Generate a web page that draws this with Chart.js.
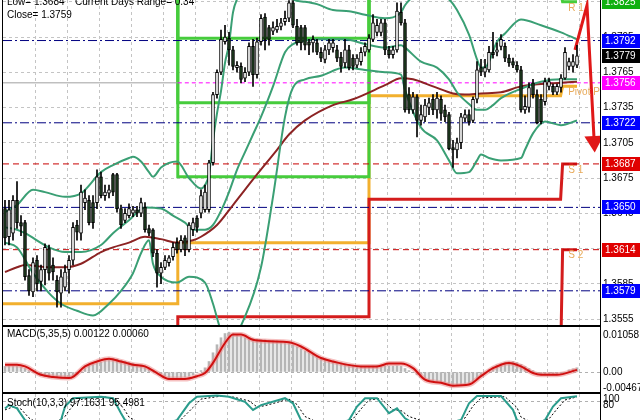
<!DOCTYPE html>
<html><head><meta charset="utf-8">
<script src="https://cdn.jsdelivr.net/npm/chart.js@4.4.1/dist/chart.umd.min.js"></script>
<style>
html,body{margin:0;padding:0;background:#fff;overflow:hidden;width:640px;height:420px;position:relative}
canvas{position:absolute;left:0}
#main{top:0}
#macd{top:326px}
#stoch{top:393px}
</style></head><body>
<canvas id="main" width="640" height="327"></canvas>
<canvas id="macd" width="640" height="67"></canvas>
<canvas id="stoch" width="640" height="36"></canvas>
<script>
// candles, one per slot
const candleOpen = [
  1.3649,1.3625,1.3628,1.3656,1.3637,1.3637,1.3592,1.3578,1.3605,1.3587,
  1.3597,1.3615,1.3601,1.3588,1.3577,1.3582,1.3597,1.3605,1.3635,1.3628,
  1.3654,1.3656,1.3654,1.3654,1.3676,1.3660,1.3662,1.3678,1.3678,1.3649,
  1.3639,1.3643,1.3645,1.3648,1.3645,1.3650,1.3632,1.3631,1.3611,1.3594,
  1.3599,1.3603,1.3608,1.3620,1.3614,1.3624,1.3614,1.3631,1.3641,1.3645,
  1.3648,1.3648,1.3688,1.3746,1.3765,1.3791,1.3794,1.3784,1.3769,1.3770,
  1.3760,1.3765,1.3787,1.3763,1.3791,1.3812,1.3803,1.3800,1.3801,1.3804,
  1.3808,1.3811,1.3824,1.3804,1.3803,1.3803,1.3791,1.3790,1.3790,1.3782,
  1.3776,1.3784,1.3786,1.3784,1.3778,1.3773,1.3784,1.3777,1.3771,1.3774,
  1.3782,1.3784,1.3793,1.3799,1.3799,1.3807,1.3784,1.3780,1.3784,1.3816,
  1.3807,1.3746,1.3733,1.3744,1.3724,1.3727,1.3735,1.3742,1.3733,1.3742,
  1.3733,1.3729,1.3701,1.3699,1.3705,1.3726,1.3729,1.3724,1.3742,1.3769,
  1.3765,1.3767,1.3782,1.3782,1.3787,1.3787,1.3777,1.3774,1.3771,1.3767,
  1.3733,1.3735,1.3756,1.3746,1.3742,1.3740,1.3753,1.3753,1.3748,1.3752,
  1.3760,1.3770,1.3770,1.3771
];
const candleHigh = [
  1.3656,1.3656,1.3660,1.3672,1.3643,1.3639,1.3597,1.3607,1.3609,1.3601,
  1.3619,1.3618,1.3607,1.3592,1.3597,1.3601,1.3609,1.3637,1.3639,1.3669,
  1.3665,1.3660,1.3660,1.3682,1.3680,1.3669,1.3669,1.3679,1.3679,1.3652,
  1.3649,1.3653,1.3651,1.3651,1.3658,1.3654,1.3635,1.3632,1.3614,1.3603,
  1.3609,1.3609,1.3620,1.3624,1.3626,1.3626,1.3637,1.3641,1.3643,1.3665,
  1.3669,1.3690,1.3748,1.3767,1.3801,1.3805,1.3799,1.3787,1.3774,1.3773,
  1.3769,1.3790,1.3793,1.3794,1.3814,1.3815,1.3805,1.3808,1.3810,1.3811,
  1.3817,1.3826,1.3826,1.3810,1.3805,1.3805,1.3793,1.3796,1.3793,1.3786,
  1.3788,1.3793,1.3793,1.3788,1.3782,1.3793,1.3788,1.3780,1.3780,1.3786,
  1.3790,1.3797,1.3814,1.3810,1.3810,1.3810,1.3787,1.3787,1.3824,1.3824,
  1.3810,1.3752,1.3748,1.3746,1.3737,1.3742,1.3743,1.3746,1.3748,1.3745,
  1.3737,1.3731,1.3707,1.3709,1.3730,1.3733,1.3733,1.3744,1.3774,1.3776,
  1.3776,1.3787,1.3799,1.3790,1.3797,1.3790,1.3780,1.3777,1.3774,1.3770,
  1.3745,1.3756,1.3759,1.3750,1.3746,1.3760,1.3760,1.3755,1.3755,1.3763,
  1.3786,1.3777,1.3780,1.3788
];
const candleLow = [
  1.3618,1.3618,1.3622,1.3632,1.3626,1.3588,1.3575,1.3574,1.3579,1.3579,
  1.3584,1.3588,1.3588,1.3565,1.3565,1.3579,1.3577,1.3601,1.3622,1.3622,
  1.3648,1.3635,1.3632,1.3649,1.3658,1.3656,1.3658,1.3660,1.3646,1.3632,
  1.3637,1.3641,1.3642,1.3642,1.3642,1.3629,1.3626,1.3608,1.3582,1.3585,
  1.3597,1.3600,1.3605,1.3611,1.3612,1.3609,1.3612,1.3626,1.3629,1.3641,
  1.3646,1.3646,1.3686,1.3743,1.3763,1.3789,1.3771,1.3767,1.3765,1.3756,
  1.3757,1.3762,1.3753,1.3760,1.3788,1.3784,1.3788,1.3797,1.3799,1.3801,
  1.3805,1.3808,1.3803,1.3788,1.3784,1.3784,1.3780,1.3782,1.3780,1.3774,
  1.3773,1.3780,1.3782,1.3774,1.3765,1.3769,1.3767,1.3767,1.3769,1.3771,
  1.3779,1.3782,1.3791,1.3796,1.3796,1.3780,1.3777,1.3777,1.3782,1.3805,
  1.3731,1.3730,1.3730,1.3710,1.3720,1.3723,1.3729,1.3729,1.3726,1.3724,
  1.3723,1.3699,1.3684,1.3692,1.3700,1.3723,1.3720,1.3722,1.3739,1.3762,
  1.3761,1.3765,1.3777,1.3779,1.3784,1.3774,1.3770,1.3769,1.3765,1.3731,
  1.3730,1.3731,1.3743,1.3721,1.3721,1.3737,1.3750,1.3746,1.3746,1.3748,
  1.3759,1.3767,1.3765,1.3769
];
const candleClose = [
  1.3624,1.3648,1.3656,1.3637,1.3634,1.3591,1.3579,1.3603,1.3585,1.3597,
  1.3616,1.3594,1.3595,1.3578,1.3591,1.3595,1.3605,1.3633,1.3629,1.3663,
  1.3658,1.3637,1.3637,1.3676,1.3660,1.3663,1.3665,1.3663,1.3649,1.3635,
  1.3645,1.3649,1.3648,1.3645,1.3654,1.3631,1.3628,1.3611,1.3594,1.3599,
  1.3605,1.3607,1.3616,1.3614,1.3622,1.3614,1.3635,1.3637,1.3633,1.3660,
  1.3663,1.3688,1.3746,1.3765,1.3793,1.3795,1.3784,1.3770,1.3771,1.3759,
  1.3765,1.3787,1.3763,1.3791,1.3811,1.3793,1.3793,1.3803,1.3804,1.3807,
  1.3811,1.3824,1.3805,1.3790,1.3790,1.3788,1.3788,1.3793,1.3782,1.3777,
  1.3784,1.3790,1.3790,1.3777,1.3770,1.3784,1.3769,1.3770,1.3777,1.3782,
  1.3787,1.3794,1.3807,1.3805,1.3807,1.3784,1.3780,1.3784,1.3817,1.3807,
  1.3733,1.3733,1.3744,1.3724,1.3729,1.3737,1.3739,1.3733,1.3743,1.3730,
  1.3727,1.3700,1.3699,1.3705,1.3727,1.3729,1.3723,1.3742,1.3767,1.3765,
  1.3769,1.3782,1.3780,1.3784,1.3793,1.3777,1.3773,1.3771,1.3767,1.3733,
  1.3736,1.3752,1.3746,1.3722,1.3723,1.3757,1.3757,1.3748,1.3753,1.3760,
  1.3782,1.3774,1.3774,1.3779
];

// Bollinger bands and moving average, read at a few slots
const bbUpperIdx = [0,3,7,10,15,19,24,27,31,32,34,36,37,39,43,46,49,50,51,52,53,54,55,56,57,58,60,63,66,69,72,75,78,82,86,90,95,99,100,102,105,108,111,113,116,118,119,120,121,123,125,129,134,139,143];
const bbUpperVal = [1.3646,1.3652,1.3665,1.3663,1.3659,1.3662,1.3680,1.3686,1.3692,1.3693,1.3689,1.3680,1.3676,1.3684,1.3689,1.3675,1.3666,1.3669,1.3678,1.3707,1.3730,1.3749,1.3773,1.3789,1.3816,1.3827,1.3837,1.3852,1.3852,1.3840,1.3827,1.3825,1.3823,1.3818,1.3817,1.3814,1.3811,1.3816,1.3822,1.3829,1.3831,1.3831,1.3827,1.3818,1.3797,1.3776,1.3769,1.3769,1.3774,1.3791,1.3798,1.3810,1.3805,1.3799,1.3793];
const bbMidIdx = [0,3,5,11,15,19,24,27,31,35,39,42,45,47,50,52,54,56,58,60,62,64,67,70,72,75,79,85,90,95,99,100,104,108,111,113,116,118,120,122,124,129,134,139,143];
const bbMidVal = [1.3633,1.3631,1.3628,1.3616,1.3612,1.3612,1.3618,1.3628,1.3639,1.3650,1.3649,1.3643,1.3637,1.3631,1.3631,1.3635,1.3647,1.3663,1.3682,1.3697,1.3712,1.3727,1.3753,1.3782,1.3789,1.3792,1.3793,1.3793,1.3789,1.3786,1.3788,1.3786,1.3774,1.3769,1.3759,1.3748,1.3738,1.3733,1.3733,1.3737,1.3743,1.3751,1.3757,1.3759,1.3759];
const bbLowerIdx = [0,3,7,11,14,18,22,26,29,32,34,36,37,39,43,46,50,52,54,56,60,64,67,70,72,75,79,85,90,95,99,100,104,108,111,113,116,118,119,121,124,129,130,132,135,139,143];
const bbLowerVal = [1.3620,1.3616,1.3594,1.3577,1.3568,1.3562,1.3558,1.3568,1.3579,1.3594,1.3611,1.3622,1.3602,1.3591,1.3586,1.3591,1.3586,1.3568,1.3545,1.3536,1.3557,1.3599,1.3659,1.3727,1.3752,1.3759,1.3762,1.3769,1.3767,1.3765,1.3763,1.3750,1.3718,1.3707,1.3690,1.3679,1.3680,1.3690,1.3695,1.3692,1.3690,1.3692,1.3699,1.3713,1.3723,1.3720,1.3724];
const maIdx = [0,3,5,11,15,19,24,27,31,35,39,43,47,49,53,57,63,68,71,75,82,87,95,99,102,107,112,115,119,124,129,134,139,143];
const maVal = [1.3595,1.3599,1.3601,1.3599,1.3599,1.3602,1.3612,1.3616,1.3620,1.3625,1.3623,1.3620,1.3622,1.3625,1.3635,1.3652,1.3678,1.3699,1.3712,1.3724,1.3737,1.3742,1.3754,1.3760,1.3759,1.3753,1.3747,1.3746,1.3747,1.3748,1.3753,1.3755,1.3756,1.3757];

// daily pivot levels per period
const periodStart = [-0.5, 43.2, 91, 139.4];
const periodEnd = [43.2, 91, 138.9, 143];
const pivotP = [1.3568, 1.3620, 1.3745, 1.3753];
const pivotR1 = [1.3870, 1.3676, 1.3833, 1.3825];
const pivotR2 = [1.3900, 1.3739, 1.3900, 1.3900];
const pivotR3 = [1.3930, 1.3794, 1.3930, 1.3930];
const pivotS1 = [1.3520, 1.3557, 1.3657, 1.3687];
const pivotS2 = [1.3490, 1.3500, 1.3520, 1.3614];
const pivotLabels = ['R 1', 'Pivot P', 'S 1', 'S 2'];
const pivotLabelVal = [1.3825, 1.3753, 1.3687, 1.3614];

// horizontal levels
const navyLevels = [1.3792, 1.3722, 1.3650, 1.3579];
const redLevels = [1.3687, 1.3614];
const magentaLevel = 1.3756;

// price tags on the axis
const tagValues = [1.3825, 1.3792, 1.3779, 1.3756, 1.3722, 1.3687, 1.3650, 1.3614, 1.3579];
const tagColors = ['#10b010', '#0000ff', '#000000', '#ff00ff', '#0000ff', '#e00000', '#0000ff', '#e00000', '#0000ff'];
const priceTicks = [1.3555, 1.3585, 1.3615, 1.3645, 1.3675, 1.3705, 1.3735, 1.3765, 1.3795, 1.3825];
const gridIdx = [7.5, 15.5, 23.5, 31.5, 39.5, 47.5, 55.5, 63.5, 71.5, 79.5, 87.5, 95.5, 103.5, 111.5, 119.5, 127.5, 135.5, 143.5];

// forecast arrow
const arrowIdx = [142.5, 145.5, 147.3];
const arrowVal = [1.3784, 1.3822, 1.3706];

// MACD(5,35,5)
const macdHist = [
  0.0016,0.0017,0.0017,0.0016,0.0014,0.0010,0.0004,-0.0002,-0.0006,-0.0010,
  -0.0013,-0.0015,-0.0016,-0.0016,-0.0017,-0.0016,-0.0015,-0.0012,-0.0006,0.0002,
  0.0012,0.0020,0.0023,0.0026,0.0028,0.0033,0.0036,0.0039,0.0037,0.0033,
  0.0030,0.0028,0.0025,0.0022,0.0020,0.0016,0.0012,0.0006,0.0000,-0.0006,
  -0.0012,-0.0016,-0.0018,-0.0017,-0.0016,-0.0015,-0.0012,-0.0008,-0.0002,0.0004,
  0.0012,0.0030,0.0055,0.0078,0.0098,0.0110,0.0114,0.0110,0.0106,0.0102,
  0.0098,0.0097,0.0095,0.0094,0.0093,0.0092,0.0091,0.0090,0.0089,0.0088,
  0.0086,0.0083,0.0078,0.0072,0.0066,0.0060,0.0055,0.0050,0.0046,0.0042,
  0.0038,0.0034,0.0031,0.0028,0.0026,0.0024,0.0022,0.0020,0.0018,0.0017,
  0.0016,0.0016,0.0017,0.0018,0.0019,0.0018,0.0017,0.0017,0.0018,0.0016,
  0.0010,0.0004,-0.0002,-0.0008,-0.0014,-0.0018,-0.0022,-0.0025,-0.0027,-0.0028,
  -0.0030,-0.0033,-0.0037,-0.0038,-0.0036,-0.0035,-0.0033,-0.0028,-0.0020,-0.0012,
  -0.0004,0.0006,0.0014,0.0020,0.0024,0.0027,0.0029,0.0030,0.0027,0.0022,
  0.0016,0.0010,0.0004,-0.0002,-0.0006,-0.0008,-0.0008,-0.0008,-0.0007,-0.0006,
  -0.0002,0.0006,0.0009,0.0012
];
const macdSigIdx = [0,3,5,9,12,16,17,20,23,26,29,32,35,38,41,45,48,50,52,55,57,59,62,66,71,74,79,82,89,93,96,99,102,105,109,112,116,119,122,126,129,132,134,138,143];
const macdSigVal = [0.0021,0.0021,0.0016,-0.0008,-0.0014,-0.0017,-0.0014,0.0016,0.0030,0.0038,0.0030,0.0021,0.0016,-0.0003,-0.0020,-0.0020,-0.0012,-0.0003,0.0026,0.0083,0.0107,0.0107,0.0092,0.0088,0.0085,0.0073,0.0040,0.0030,0.0016,0.0016,0.0024,0.0024,0.0011,-0.0022,-0.0031,-0.0039,-0.0036,-0.0012,0.0011,0.0026,0.0016,-0.0003,-0.0008,-0.0008,0.0006];
const macdTicks = [0.01058, 0, -0.00467];

// Stochastic(10,3,3)
const stochIdx = [0,1,3,5,7,9,11,13,14,15,17,24,27,29,30,32,35,38,41,43,46,48,53,56,60,62,64,70,72,74,77,80,83,86,88,90,93,96,98,100,102,106,110,114,116,118,124,127,128,131,133,135,137,139,143];
const stochVal = [57,68,57,18,8,5,6,12,18,63,91,96,91,41,18,8,3,5,10,18,74,96,100,96,79,52,68,91,74,18,6,3,5,18,63,91,91,41,57,24,8,2,6,18,74,98,98,52,18,6,8,18,63,91,97.16];
const stochSigIdx = [0,2,4,6,8,12,15,16,18,20,25,28,30,31,34,40,44,47,49,54,57,61,63,65,71,73,75,79,84,87,89,91,94,97,99,101,107,111,115,117,119,125,128,129,132,136,138,140,143];
const stochSigVal = [52,62,55,25,10,5,30,50,80,92,95,85,50,28,6,5,20,60,88,98,95,82,62,66,88,70,30,5,4,22,55,85,90,52,50,30,3,5,25,65,92,96,60,28,8,22,55,85,95.5];
const stochTicks = [100, 80];

const FONT = '"Liberation Sans", Arial, sans-serif';
Chart.defaults.font.family = FONT;
Chart.defaults.font.size = 10;
Chart.defaults.color = '#000';

const pts = (xs, ys) => xs.map((x, i) => ({ x, y: ys[i] }));
const flat = v => [{ x: -0.5, y: v }, { x: 148.75, y: v }];
const steps = vals => {
  const out = [];
  vals.forEach((v, k) => { out.push({ x: periodStart[k], y: v }, { x: periodEnd[k], y: v }); });
  return out;
};
const line = (data, color, width, extra) => Object.assign({
  type: 'line', data, borderColor: color, borderWidth: width, pointRadius: 0, fill: false, order: 5
}, extra || {});

const noPad = s => { s.paddingTop = 0; s.paddingBottom = 0; s.paddingLeft = 0; s.paddingRight = 0; };

function xScale() {
  return {
    type: 'linear', min: -0.5, max: 148.75, offset: false,
    afterBuildTicks: s => { s.ticks = gridIdx.map(v => ({ value: v })); },
    afterFit: s => { s.height = 0; noPad(s); },
    ticks: { display: false },
    grid: { color: '#c4c4c4', drawTicks: false, offset: false },
    border: { display: false, dash: [3, 3] }
  };
}

function frame(chart) {
  const { ctx, chartArea: a } = chart;
  ctx.save();
  ctx.strokeStyle = '#000';
  ctx.lineWidth = 1;
  ctx.strokeRect(Math.round(a.left) - 0.5, Math.round(a.top) - 0.5, Math.round(a.right - a.left) + 1, Math.round(a.bottom - a.top) + 1);
  ctx.restore();
}

const mainExtras = {
  id: 'mainExtras',
  afterDatasetsDraw(chart) {
    const { ctx, chartArea: a, scales: { x, y } } = chart;
    ctx.save();
    ctx.beginPath();
    ctx.rect(a.left, a.top, a.right - a.left, a.bottom - a.top);
    ctx.clip();
    ctx.font = '10px ' + FONT;
    ctx.textBaseline = 'middle';
    ctx.fillStyle = '#000';
    ctx.fillText('Low= 1.3684', 7, 2);
    ctx.fillText('Current Days Range= 0.34', 75, 2);
    ctx.fillText('Close= 1.3759', 7, 15);
    ctx.fillStyle = '#e8aa5a';
    ctx.textBaseline = 'top';
    pivotLabels.forEach((t, k) => {
      ctx.fillText(t, x.getPixelForValue(140.8), y.getPixelForValue(pivotLabelVal[k]) + 1);
    });
    ctx.restore();
  },
  afterDraw(chart) {
    const { ctx, scales: { y } } = chart;
    frame(chart);
    ctx.save();
    ctx.font = '10px ' + FONT;
    ctx.textBaseline = 'middle';
    tagValues.forEach((v, k) => {
      const py = Math.round(y.getPixelForValue(v));
      ctx.fillStyle = tagColors[k];
      ctx.fillRect(602, py - 7, 38, 14);
      ctx.fillStyle = '#fff';
      ctx.fillText(v.toFixed(4), 605, py);
    });
    ctx.restore();
  }
};

const idx = candleClose.map((_, i) => i);
const bull = idx.map(i => candleClose[i] >= candleOpen[i]);

const mainSets = [
  {
    type: 'bar', order: 0, grouped: false, barThickness: 3, minBarLength: 1,
    data: idx.map(i => ({ x: i, y: [candleOpen[i], candleClose[i]] })),
    backgroundColor: bull.map(b => b ? '#ffffff' : '#1d3a1f'),
    borderColor: '#000', borderWidth: 1, borderSkipped: false
  },
  {
    type: 'bar', order: 1, grouped: false, barThickness: 1,
    data: idx.map(i => ({ x: i, y: [candleLow[i], candleHigh[i]] })),
    backgroundColor: '#000', borderWidth: 0
  },
  line(steps(pivotR1), '#46cc3c', 3),
  line(steps(pivotR2), '#46cc3c', 3),
  line(steps(pivotR3), '#46cc3c', 3),
  line(steps(pivotS1), '#d41c1c', 3),
  line(steps(pivotS2), '#d41c1c', 3),
  line(steps(pivotP), '#f2b02e', 3),
  line(pts(bbUpperIdx, bbUpperVal), '#3a9f74', 2, { cubicInterpolationMode: 'monotone', order: 3 }),
  line(pts(bbMidIdx, bbMidVal), '#3a9f74', 2, { cubicInterpolationMode: 'monotone', order: 3 }),
  line(pts(bbLowerIdx, bbLowerVal), '#3a9f74', 2, { cubicInterpolationMode: 'monotone', order: 3 }),
  line(pts(maIdx, maVal), '#8c2323', 2, { cubicInterpolationMode: 'monotone', order: 3 }),
  ...navyLevels.map(v => line(flat(v), '#000080', 1, { borderDash: [9, 3, 2, 3], order: 4 })),
  ...redLevels.map(v => line(flat(v), '#c80000', 1, { borderDash: [6, 4], order: 4 })),
  line([{ x: -0.5, y: magentaLevel }, { x: 43.2, y: magentaLevel }], '#a0a0a0', 1, { order: 4 }),
  line([{ x: 43.2, y: magentaLevel }, { x: 148.75, y: magentaLevel }], '#ff00ff', 1, { borderDash: [4, 3], order: 4 }),
  line(pts(arrowIdx, arrowVal), '#e01818', 3, {
    order: 2, pointRadius: [0, 0, 8], pointStyle: 'triangle', pointRotation: 177,
    pointBackgroundColor: '#e01818', pointBorderColor: '#e01818', borderJoinStyle: 'miter'
  })
];

new Chart(document.getElementById('main'), {
  data: { datasets: mainSets },
  options: {
    responsive: false, animation: false, devicePixelRatio: 1,
    layout: { autoPadding: false, padding: { left: 3, top: 0, right: 0, bottom: 2 } },
    plugins: { legend: { display: false }, tooltip: { enabled: false } },
    scales: {
      x: xScale(),
      y: {
        position: 'right', min: 1.35499, max: 1.38265,
        afterBuildTicks: s => { s.ticks = priceTicks.map(v => ({ value: v })); },
        afterFit: s => { s.width = 40; noPad(s); },
        ticks: { padding: 3, autoSkip: false, callback: v => v.toFixed(4) },
        grid: { color: '#c4c4c4', drawTicks: false },
        border: { display: false, dash: [3, 3] }
      }
    }
  },
  plugins: [mainExtras]
});

const panelText = (label, ly) => ({
  id: 'panelText',
  afterDraw(chart) {
    const { ctx } = chart;
    frame(chart);
    ctx.save();
    ctx.font = '10px ' + FONT;
    ctx.textBaseline = 'middle';
    ctx.fillStyle = '#000';
    ctx.fillText(label, 7, ly);
    ctx.restore();
  }
});

new Chart(document.getElementById('macd'), {
  data: {
    datasets: [
      { type: 'bar', order: 3, grouped: false, barThickness: 2,
        data: macdHist.map((v, i) => ({ x: i, y: v })), backgroundColor: '#b6b6b6', borderWidth: 0 },
      line(pts(macdSigIdx, macdSigVal), 'rgba(236,140,140,0.55)', 5, { cubicInterpolationMode: 'monotone', order: 2 }),
      line(pts(macdSigIdx, macdSigVal), '#d01010', 2, { cubicInterpolationMode: 'monotone', order: 1 })
    ]
  },
  options: {
    responsive: false, animation: false, devicePixelRatio: 1,
    layout: { autoPadding: false, padding: { left: 3, top: 1, right: 0, bottom: 1 } },
    plugins: { legend: { display: false }, tooltip: { enabled: false } },
    scales: {
      x: xScale(),
      y: {
        position: 'right', min: -0.00572, max: 0.01287,
        afterBuildTicks: s => { s.ticks = macdTicks.map(v => ({ value: v })); },
        afterFit: s => { s.width = 40; noPad(s); },
        ticks: { padding: 3, autoSkip: false, callback: v => v === 0 ? '0.00' : v.toFixed(5) },
        grid: { color: c => c.tick && c.tick.value === 0 ? '#b0b0b0' : 'rgba(0,0,0,0)', drawTicks: false },
        border: { display: false, dash: [3, 3] }
      }
    }
  },
  plugins: [panelText('MACD(5,35,5) 0.00122 0.00060', 8)]
});

new Chart(document.getElementById('stoch'), {
  data: {
    datasets: [
      line(pts(stochSigIdx, stochSigVal), '#000', 1, { borderDash: [2, 2], order: 2 }),
      line(pts(stochIdx, stochVal), '#2a9c8c', 2, { order: 1 })
    ]
  },
  options: {
    responsive: false, animation: false, devicePixelRatio: 1,
    layout: { autoPadding: false, padding: { left: 3, top: 1, right: 0, bottom: 2 } },
    plugins: { legend: { display: false }, tooltip: { enabled: false } },
    scales: {
      x: xScale(),
      y: {
        position: 'right', min: -5, max: 105,
        afterBuildTicks: s => { s.ticks = stochTicks.map(v => ({ value: v })); },
        afterFit: s => { s.width = 40; noPad(s); },
        ticks: { padding: 3, autoSkip: false, labelOffset: 4 },
        grid: { color: c => c.tick && c.tick.value === 80 ? '#b0b0b0' : 'rgba(0,0,0,0)', drawTicks: false },
        border: { display: false, dash: [3, 3] }
      }
    }
  },
  plugins: [panelText('Stoch(10,3,3) 97.1631 95.4981', 10)]
});
</script>
</body></html>
